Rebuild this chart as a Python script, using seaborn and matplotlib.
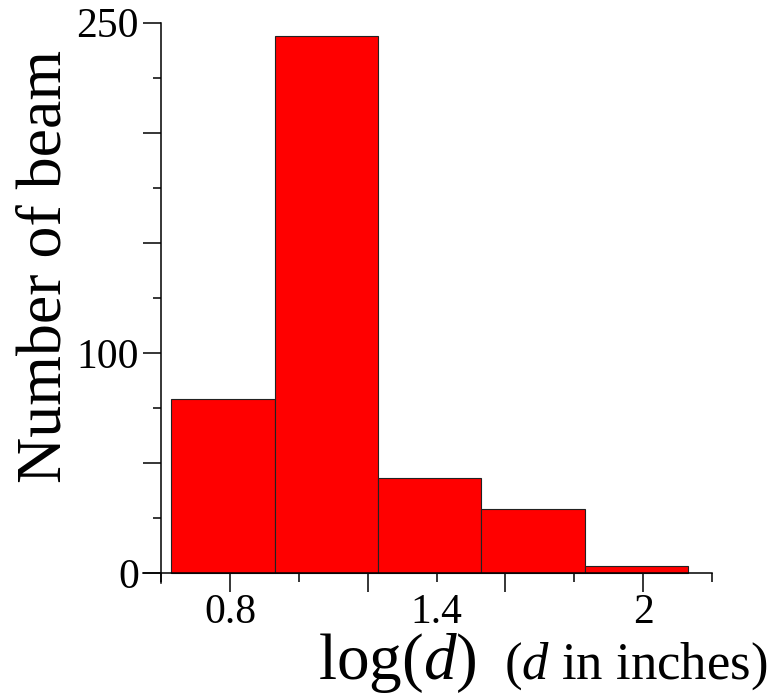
import matplotlib
matplotlib.use("Agg")
import matplotlib.pyplot as plt
import seaborn as sns
import numpy as np
from matplotlib.ticker import FixedLocator, FixedFormatter

# ---- data ----
bin_edges = [0.63, 0.93, 1.23, 1.53, 1.83, 2.13]
counts = [79, 244, 43, 29, 3]
bin_centers = [(a + b) / 2 for a, b in zip(bin_edges[:-1], bin_edges[1:])]

x_major = [0.8, 1.2, 1.6, 2.0]
x_major_labels = ["0.8", "", "", "2"]
x_minor = [0.6, 1.0, 1.4, 1.8, 2.2]
x_minor_labels = ["", "", "1.4", "", ""]
y_major = [0, 50, 100, 150, 200, 250]
y_major_labels = ["0", "", "100", "", "", "250"]
y_minor = [25, 75, 125, 175, 225]

sns.set_style("white")
plt.rcParams['font.family'] = ['Liberation Serif', 'DejaVu Serif']
plt.rcParams['mathtext.fontset'] = 'custom'
plt.rcParams['mathtext.rm'] = 'Liberation Serif'
plt.rcParams['mathtext.it'] = 'Liberation Serif:italic'
plt.rcParams['text.color'] = 'black'
plt.rcParams['xtick.color'] = 'black'
plt.rcParams['ytick.color'] = 'black'
plt.rcParams['xtick.labelcolor'] = 'black'
plt.rcParams['ytick.labelcolor'] = 'black'

W, H = 772, 696
fig = plt.figure(figsize=(W / 100, H / 100), dpi=100)
ax = fig.add_axes([143 / W, 1 - 583 / H, (712 - 143) / W, (583 - 22.7) / H])

sns.histplot(x=bin_centers, weights=counts, bins=bin_edges, ax=ax,
             color="#ff0000", alpha=1.0, edgecolor="#222222", linewidth=0.8)

ax.set_xlim(0.5472, 2.2003)
ax.set_ylim(-4.54, 250)

for s in ["top", "right"]:
    ax.spines[s].set_visible(False)
ax.spines["left"].set_position(("data", 0.6))
ax.spines["bottom"].set_position(("data", 0))
for s in ["left", "bottom"]:
    ax.spines[s].set_linewidth(1.1)
    ax.spines[s].set_color("black")

ax.xaxis.set_major_locator(FixedLocator(x_major))
ax.xaxis.set_major_formatter(FixedFormatter(x_major_labels))
ax.xaxis.set_minor_locator(FixedLocator(x_minor))
ax.xaxis.set_minor_formatter(FixedFormatter(x_minor_labels))
ax.yaxis.set_major_locator(FixedLocator(y_major))
ax.yaxis.set_major_formatter(FixedFormatter(y_major_labels))
ax.yaxis.set_minor_locator(FixedLocator(y_minor))

ax.tick_params(axis="x", which="major", direction="out", length=13.7, width=1.1,
               labelsize=30, pad=1, bottom=True, colors="black")
ax.tick_params(axis="x", which="minor", direction="out", length=6.5, width=1.1,
               labelsize=30, pad=8.2, bottom=True, colors="black")
ax.tick_params(axis="y", which="major", direction="out", length=13, width=1.1,
               labelsize=30, pad=3, left=True, colors="black")
ax.tick_params(axis="y", which="minor", direction="out", length=5.8, width=1.1,
               left=True, colors="black")
ax.set_xlabel("")
ax.set_ylabel("")
ax.grid(False)

fig.text(46 / W, 1 - 266 / H, "Number of beam", rotation=90, ha="center",
         va="center", fontsize=46, color="black")
fig.text(318 / W, 1 - 679 / H, "log($d$)", ha="left", va="baseline",
         fontsize=47, color="black")
fig.text(767 / W, 1 - 679 / H, "($d$ in inches)", ha="right", va="baseline",
         fontsize=38, color="black")

fig.savefig("out.png", dpi=100)
